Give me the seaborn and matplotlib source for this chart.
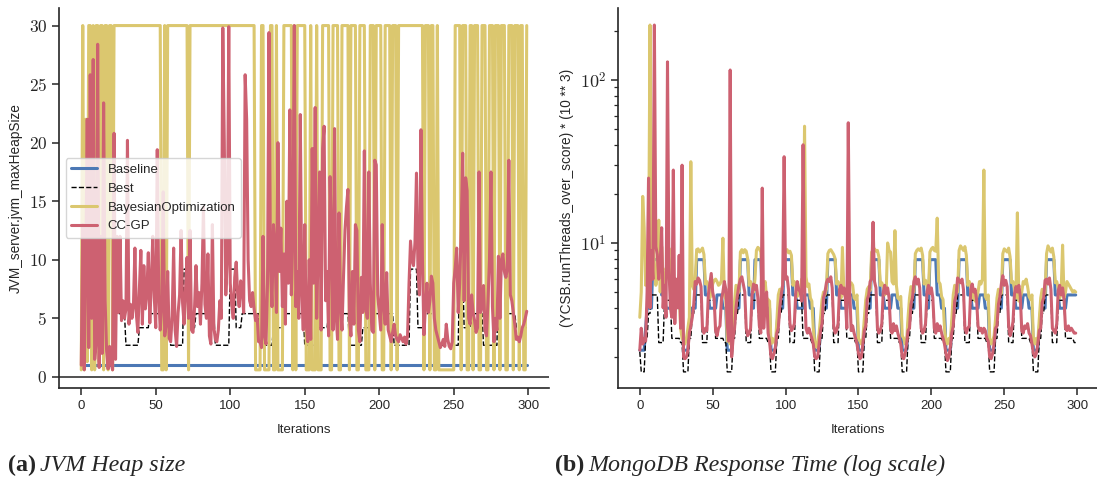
import numpy as np
import pandas as pd
import matplotlib
matplotlib.use("Agg")
import matplotlib.pyplot as plt
import seaborn as sns
from matplotlib.ticker import FuncFormatter, LogLocator, NullFormatter, FixedLocator

# ---------------- data ----------------
iterations = list(range(300))

heap_baseline = [
    1.0, 1.0, 1.0, 1.0, 1.0, 1.0, 1.0, 1.0, 1.0, 1.0, 1.0, 1.0, 1.0, 1.0, 1.0, 1.0, 1.0, 1.0, 1.0, 1.0, 1.0, 1.0, 1.0, 1.0, 1.0, 1.0, 1.0, 1.0, 1.0, 1.0,
    1.0, 1.0, 1.0, 1.0, 1.0, 1.0, 1.0, 1.0, 1.0, 1.0, 1.0, 1.0, 1.0, 1.0, 1.0, 1.0, 1.0, 1.0, 1.0, 1.0, 1.0, 1.0, 1.0, 1.0, 1.0, 1.0, 1.0, 1.0, 1.0, 1.0,
    1.0, 1.0, 1.0, 1.0, 1.0, 1.0, 1.0, 1.0, 1.0, 1.0, 1.0, 1.0, 1.0, 1.0, 1.0, 1.0, 1.0, 1.0, 1.0, 1.0, 1.0, 1.0, 1.0, 1.0, 1.0, 1.0, 1.0, 1.0, 1.0, 1.0,
    1.0, 1.0, 1.0, 1.0, 1.0, 1.0, 1.0, 1.0, 1.0, 1.0, 1.0, 1.0, 1.0, 1.0, 1.0, 1.0, 1.0, 1.0, 1.0, 1.0, 1.0, 1.0, 1.0, 1.0, 1.0, 1.0, 1.0, 1.0, 1.0, 1.0,
    1.0, 1.0, 1.0, 1.0, 1.0, 1.0, 1.0, 1.0, 1.0, 1.0, 1.0, 1.0, 1.0, 1.0, 1.0, 1.0, 1.0, 1.0, 1.0, 1.0, 1.0, 1.0, 1.0, 1.0, 1.0, 1.0, 1.0, 1.0, 1.0, 1.0,
    1.0, 1.0, 1.0, 1.0, 1.0, 1.0, 1.0, 1.0, 1.0, 1.0, 1.0, 1.0, 1.0, 1.0, 1.0, 1.0, 1.0, 1.0, 1.0, 1.0, 1.0, 1.0, 1.0, 1.0, 1.0, 1.0, 1.0, 1.0, 1.0, 1.0,
    1.0, 1.0, 1.0, 1.0, 1.0, 1.0, 1.0, 1.0, 1.0, 1.0, 1.0, 1.0, 1.0, 1.0, 1.0, 1.0, 1.0, 1.0, 1.0, 1.0, 1.0, 1.0, 1.0, 1.0, 1.0, 1.0, 1.0, 1.0, 1.0, 1.0,
    1.0, 1.0, 1.0, 1.0, 1.0, 1.0, 1.0, 1.0, 1.0, 1.0, 1.0, 1.0, 1.0, 1.0, 1.0, 1.0, 1.0, 1.0, 1.0, 1.0, 1.0, 1.0, 1.0, 1.0, 1.0, 1.0, 1.0, 1.0, 1.0, 1.0,
    1.0, 1.0, 1.0, 1.0, 1.0, 1.0, 1.0, 1.0, 1.0, 1.0, 1.0, 1.0, 1.0, 1.0, 1.0, 1.0, 1.0, 1.0, 1.0, 1.0, 1.0, 1.0, 1.0, 1.0, 1.0, 1.0, 1.0, 1.0, 1.0, 1.0,
    1.0, 1.0, 1.0, 1.0, 1.0, 1.0, 1.0, 1.0, 1.0, 1.0, 1.0, 1.0, 1.0, 1.0, 1.0, 1.0, 1.0, 1.0, 1.0, 1.0, 1.0, 1.0, 1.0, 1.0, 1.0, 1.0, 1.0, 1.0, 1.0, 1.0,
]

heap_best = [
    2.7, 2.7, 2.7, 2.7, 2.7, 2.7, 2.7, 2.7, 2.7, 4.2, 4.2, 4.2, 4.2, 4.2, 4.2, 4.2, 5.4, 5.4, 5.4, 5.4, 5.4, 5.4, 5.4, 5.4, 5.4, 5.4, 5.4, 5.4, 5.4, 5.4,
    2.7, 2.7, 2.7, 2.7, 2.7, 2.7, 2.7, 2.7, 2.7, 4.2, 4.2, 4.2, 4.2, 4.2, 4.2, 4.2, 5.4, 5.4, 5.4, 5.4, 5.4, 5.4, 5.4, 5.4, 5.4, 5.4, 5.4, 5.4, 5.4, 5.4,
    2.7, 2.7, 2.7, 2.7, 2.7, 2.7, 2.7, 2.7, 2.7, 9.2, 9.2, 9.2, 4.2, 4.2, 4.2, 4.2, 4.2, 5.4, 5.4, 5.4, 5.4, 5.4, 5.4, 5.4, 5.4, 5.4, 5.4, 5.4, 5.4, 5.4,
    2.7, 2.7, 2.7, 2.7, 2.7, 2.7, 2.7, 2.7, 2.7, 2.7, 9.2, 9.2, 9.2, 9.2, 4.2, 4.2, 4.2, 4.2, 5.4, 5.4, 5.4, 5.4, 5.4, 5.4, 5.4, 5.4, 5.4, 5.4, 5.4, 5.4,
    2.7, 2.7, 2.7, 2.7, 2.7, 2.7, 2.7, 2.7, 2.7, 4.2, 4.2, 4.2, 4.2, 4.2, 4.2, 4.2, 5.4, 5.4, 5.4, 5.4, 5.4, 5.4, 5.4, 5.4, 5.4, 5.4, 5.4, 5.4, 5.4, 5.4,
    2.7, 2.7, 2.7, 2.7, 2.7, 2.7, 2.7, 2.7, 2.7, 4.2, 4.2, 4.2, 4.2, 4.2, 4.2, 4.2, 5.4, 5.4, 5.4, 5.4, 5.4, 5.4, 5.4, 5.4, 5.4, 5.4, 5.4, 5.4, 5.4, 5.4,
    2.7, 2.7, 2.7, 2.7, 2.7, 2.7, 2.7, 2.7, 2.7, 4.2, 4.2, 4.2, 4.2, 4.2, 4.2, 4.2, 5.4, 5.4, 5.4, 5.4, 5.4, 5.4, 5.4, 5.4, 5.4, 5.4, 5.4, 5.4, 5.4, 5.4,
    2.7, 2.7, 2.7, 2.7, 2.7, 2.7, 2.7, 2.7, 2.7, 2.7, 2.7, 9.2, 9.2, 9.2, 9.2, 9.2, 4.2, 4.2, 4.2, 4.2, 5.4, 5.4, 5.4, 5.4, 5.4, 5.4, 5.4, 5.4, 5.4, 5.4,
    2.7, 2.7, 2.7, 2.7, 2.7, 2.7, 2.7, 2.7, 2.7, 2.7, 2.7, 2.7, 2.7, 2.7, 9.2, 9.2, 9.2, 4.2, 4.2, 4.2, 4.2, 4.2, 5.4, 5.4, 5.4, 5.4, 5.4, 5.4, 5.4, 5.4,
    2.7, 2.7, 2.7, 2.7, 2.7, 2.7, 2.7, 2.7, 2.7, 2.7, 9.2, 9.2, 9.2, 9.2, 9.2, 5.4, 5.4, 5.4, 5.4, 5.4, 5.4, 5.4, 4.2, 4.2, 4.2, 4.2, 4.2, 4.2, 4.2, 4.2,
]

heap_bo = [
    0.6, 30, 0.6, 22, 1.3, 30, 30, 0.6, 30, 0.6, 30, 30, 1.3, 30, 30, 0.6, 30, 30, 0.6, 30, 30, 0.6, 30, 30, 30, 30, 30, 30, 30, 30,
    30, 30, 30, 30, 30, 30, 30, 30, 30, 30, 30, 30, 30, 30, 30, 30, 30, 30, 30, 30, 30, 30, 30, 30, 0.6, 0.6, 30, 0.6, 30, 30,
    30, 30, 30, 30, 30, 30, 30, 30, 30, 30, 30, 30, 0.6, 30, 30, 30, 30, 30, 30, 30, 30, 30, 30, 30, 30, 30, 30, 30, 30, 30,
    30, 30, 30, 30, 30, 30, 30, 30, 30, 30, 30, 30, 30, 30, 30, 30, 30, 30, 30, 30, 30, 30, 30, 30, 30, 30, 30, 0.6, 0.6, 0.6,
    0.6, 30, 30, 0.6, 0.6, 0.6, 0.6, 30, 30, 0.6, 0.6, 30, 0.6, 0.6, 0.6, 0.6, 30, 30, 30, 30, 30, 30, 0.6, 30, 0.6, 30, 30, 30, 30, 30,
    30, 0.6, 0.6, 0.6, 30, 0.6, 0.6, 0.6, 30, 0.6, 0.6, 0.6, 30, 30, 30, 30, 30, 0.6, 0.6, 30, 30, 30, 30, 0.6, 0.6, 30, 30, 30, 30, 30,
    0.6, 30, 30, 30, 30, 0.6, 0.6, 30, 30, 30, 30, 0.6, 0.6, 0.6, 30, 30, 30, 0.6, 30, 30, 30, 30, 0.6, 0.6, 30, 30, 30, 30, 0.6, 30,
    30, 30, 0.6, 30, 30, 30, 30, 30, 30, 30, 30, 30, 30, 30, 30, 30, 30, 30, 30, 30, 0.6, 30, 30, 30, 0.6, 30, 30, 0.6, 0.6, 30,
    0.6, 0.6, 0.6, 0.6, 0.6, 0.6, 0.6, 0.6, 0.6, 0.6, 0.6, 30, 30, 30, 30, 0.6, 30, 30, 30, 0.6, 0.6, 30, 30, 0.6, 30, 30, 30, 0.6, 0.6, 30,
    30, 30, 0.6, 0.6, 30, 30, 30, 0.6, 30, 30, 30, 0.6, 30, 30, 30, 0.6, 0.6, 30, 30, 30, 0.6, 30, 30, 30, 0.6, 30, 30, 0.6, 0.6, 30,
]

heap_ccgp = [
    1.0, 13.0, 0.6, 9.3, 22.0, 2.5, 25.8, 5.0, 27.1, 1.5, 3.0, 28.4, 0.8, 12.0, 2.0, 23.4, 6.5, 2.2, 0.7, 2.6, 1.2, 0.6, 20.8, 1.5, 12.0, 5.5, 12.0, 4.8, 6.5, 5.0,
    5.8, 20.2, 4.5, 6.2, 5.0, 6.0, 11.0, 5.3, 3.8, 7.5, 10.8, 4.5, 9.5, 5.8, 7.2, 10.6, 4.6, 8.0, 12.0, 6.8, 4.2, 19.4, 7.0, 4.0, 6.0, 15.8, 3.5, 4.5, 9.0, 3.3,
    3.0, 5.2, 11.0, 4.0, 2.6, 5.5, 7.0, 12.5, 6.3, 4.5, 7.5, 10.2, 5.0, 12.5, 4.0, 3.8, 5.8, 9.5, 6.0, 7.2, 4.5, 8.0, 14.5, 6.2, 5.0, 10.5, 3.5, 2.8, 13.0, 4.2,
    3.2, 3.0, 4.0, 6.5, 5.0, 29.8, 20.0, 7.0, 10.0, 29.9, 8.0, 6.2, 5.0, 8.5, 9.8, 7.0, 6.0, 8.2, 7.5, 5.5, 25.8, 22.0, 10.0, 6.5, 6.0, 7.2, 5.8, 4.8, 5.3, 3.0,
    3.0, 2.5, 12.0, 3.5, 2.8, 8.0, 29.4, 9.5, 6.0, 13.0, 11.0, 5.5, 20.0, 9.0, 12.7, 6.0, 10.5, 4.5, 15.0, 8.0, 22.8, 7.0, 12.0, 30.0, 6.0, 9.0, 5.0, 22.4, 7.5, 4.0,
    13.0, 4.5, 3.0, 10.0, 3.2, 19.5, 8.0, 23.0, 5.0, 11.0, 17.5, 4.0, 19.5, 21.4, 6.5, 9.0, 3.5, 17.1, 11.6, 4.0, 21.2, 5.5, 3.2, 14.0, 6.0, 4.0, 8.5, 12.5, 14.5, 16.0,
    5.0, 3.5, 9.0, 4.5, 13.0, 12.5, 4.0, 3.0, 8.5, 5.5, 19.3, 6.0, 5.0, 17.5, 8.0, 4.0, 3.8, 18.5, 18.1, 7.0, 5.5, 4.0, 13.0, 6.0, 4.5, 8.9, 4.0, 3.5, 3.0, 3.8,
    4.5, 3.5, 3.2, 3.0, 3.6, 3.3, 3.0, 3.4, 2.8, 3.5, 8.0, 11.6, 10.0, 9.5, 11.5, 17.4, 9.0, 7.0, 21.1, 10.0, 3.6, 6.0, 8.0, 5.5, 6.5, 8.6, 8.0, 5.0, 4.0, 3.5,
    3.0, 2.5, 2.8, 3.2, 2.6, 4.5, 3.2, 2.6, 2.4, 3.0, 8.0, 9.3, 11.0, 5.5, 8.0, 12.5, 19.1, 6.5, 17.0, 15.9, 5.0, 4.5, 7.0, 5.5, 4.8, 3.8, 4.2, 17.5, 5.5, 6.0,
    7.8, 4.0, 3.5, 6.5, 10.0, 17.5, 6.0, 3.0, 5.0, 4.0, 10.3, 5.0, 10.0, 10.5, 9.0, 8.5, 9.2, 18.5, 7.0, 6.5, 5.5, 4.5, 3.2, 3.4, 3.0, 3.5, 4.2, 4.5, 5.0, 5.6,
]

mongo_baseline = [
    2.2, 2.2, 2.2, 2.2, 3.0, 3.98, 3.98, 3.98, 3.98, 7.9, 7.9, 7.9, 7.9, 7.9, 7.9, 4.8, 4.8, 4.8, 3.98, 3.98, 3.98, 3.98, 3.98, 4.8, 4.8, 4.8, 4.8, 3.98, 3.98, 3.98,
    2.2, 2.2, 2.2, 2.2, 3.0, 3.98, 3.98, 3.98, 3.98, 7.9, 7.9, 7.9, 7.9, 7.9, 7.9, 4.8, 4.8, 4.8, 3.98, 3.98, 3.98, 3.98, 3.98, 4.8, 4.8, 4.8, 4.8, 3.98, 3.98, 3.98,
    2.2, 2.2, 2.2, 2.2, 3.0, 3.98, 3.98, 3.98, 3.98, 7.9, 7.9, 7.9, 7.9, 7.9, 7.9, 4.8, 4.8, 4.8, 3.98, 7.9, 7.9, 7.9, 7.9, 7.9, 4.8, 4.8, 4.8, 3.98, 3.98, 3.98,
    2.2, 2.2, 2.2, 2.2, 3.0, 3.98, 3.98, 3.98, 3.98, 7.9, 7.9, 7.9, 7.9, 7.9, 7.9, 4.8, 4.8, 4.8, 3.98, 3.98, 3.98, 3.98, 3.98, 4.8, 4.8, 4.8, 4.8, 3.98, 3.98, 3.98,
    2.2, 2.2, 2.2, 2.2, 3.0, 3.98, 3.98, 3.98, 3.98, 7.9, 7.9, 7.9, 7.9, 7.9, 7.9, 4.8, 4.8, 4.8, 3.98, 3.98, 3.98, 3.98, 3.98, 4.8, 4.8, 4.8, 4.8, 3.98, 3.98, 3.98,
    2.2, 2.2, 2.2, 2.2, 3.0, 3.98, 3.98, 3.98, 3.98, 7.9, 7.9, 7.9, 7.9, 7.9, 7.9, 4.8, 4.8, 4.8, 3.98, 3.98, 3.98, 3.98, 3.98, 4.8, 4.8, 4.8, 4.8, 3.98, 3.98, 3.98,
    2.2, 2.2, 2.2, 2.2, 3.0, 3.98, 3.98, 3.98, 3.98, 7.9, 7.9, 7.9, 7.9, 7.9, 7.9, 4.8, 4.8, 4.8, 3.98, 7.9, 7.9, 7.9, 7.9, 7.9, 4.8, 4.8, 4.8, 3.98, 3.98, 3.98,
    2.2, 2.2, 2.2, 2.2, 3.0, 3.98, 3.98, 3.98, 3.98, 7.9, 7.9, 7.9, 7.9, 7.9, 7.9, 4.8, 4.8, 4.8, 3.98, 3.98, 3.98, 3.98, 3.98, 4.8, 4.8, 4.8, 4.8, 3.98, 3.98, 3.98,
    2.2, 2.2, 2.2, 2.2, 3.0, 3.98, 3.98, 3.98, 3.98, 7.9, 7.9, 7.9, 7.9, 7.9, 7.9, 4.8, 4.8, 4.8, 3.98, 3.98, 3.98, 3.98, 3.98, 4.8, 4.8, 4.8, 4.8, 3.98, 3.98, 3.98,
    2.2, 2.2, 2.2, 2.2, 3.0, 3.98, 3.98, 3.98, 3.98, 7.9, 7.9, 7.9, 7.9, 7.9, 7.9, 4.8, 4.8, 4.8, 3.98, 3.98, 3.98, 3.98, 3.98, 4.8, 4.8, 4.8, 4.8, 4.8, 4.8, 4.8,
]

mongo_best = [
    2.15, 1.62, 1.62, 1.62, 2.6, 2.6, 3.7, 3.7, 4.8, 4.8, 4.8, 4.8, 4.8, 2.45, 2.45, 2.45, 2.45, 4.45, 4.45, 4.45, 4.45, 4.45, 2.6, 2.6, 2.6, 2.6, 2.6, 2.6, 2.45, 2.45,
    1.62, 1.62, 1.62, 1.62, 2.6, 2.6, 3.7, 3.7, 4.8, 4.8, 4.8, 4.8, 4.8, 2.45, 2.45, 2.45, 2.45, 4.45, 4.45, 4.45, 4.45, 4.45, 2.6, 2.6, 2.6, 2.6, 2.6, 2.6, 2.45, 2.45,
    1.62, 1.62, 1.62, 1.62, 2.6, 2.6, 3.7, 3.7, 4.8, 4.8, 4.8, 4.8, 4.8, 2.45, 2.45, 2.45, 2.45, 4.45, 4.45, 4.45, 4.45, 4.45, 2.6, 2.6, 2.6, 2.6, 2.6, 2.6, 2.45, 2.45,
    1.62, 1.62, 1.62, 1.62, 2.6, 2.6, 3.7, 3.7, 4.8, 4.8, 4.8, 4.8, 4.8, 2.45, 2.45, 2.45, 2.45, 4.45, 4.45, 4.45, 4.45, 4.45, 2.6, 2.6, 2.6, 2.6, 2.6, 2.6, 2.45, 2.45,
    1.62, 1.62, 1.62, 1.62, 2.6, 2.6, 3.7, 3.7, 4.8, 4.8, 4.8, 4.8, 4.8, 2.45, 2.45, 2.45, 2.45, 4.45, 4.45, 4.45, 4.45, 4.45, 2.6, 2.6, 2.6, 2.6, 2.6, 2.6, 2.45, 2.45,
    1.62, 1.62, 1.62, 1.62, 2.6, 2.6, 3.7, 3.7, 4.8, 4.8, 4.8, 4.8, 4.8, 2.45, 2.45, 2.45, 2.45, 4.45, 4.45, 4.45, 4.45, 4.45, 2.6, 2.6, 2.6, 2.6, 2.6, 2.6, 2.45, 2.45,
    1.62, 1.62, 1.62, 1.62, 2.6, 2.6, 3.7, 3.7, 4.8, 4.8, 4.8, 4.8, 4.8, 2.45, 2.45, 2.45, 2.45, 4.45, 4.45, 4.45, 4.45, 4.45, 2.6, 2.6, 2.6, 2.6, 2.6, 2.6, 2.45, 2.45,
    1.62, 1.62, 1.62, 1.62, 2.6, 2.6, 3.7, 3.7, 4.8, 4.8, 4.8, 4.8, 4.8, 2.45, 2.45, 2.45, 2.45, 4.45, 4.45, 4.45, 4.45, 4.45, 2.6, 2.6, 2.6, 2.6, 2.6, 2.6, 2.45, 2.45,
    1.62, 1.62, 1.62, 1.62, 2.6, 2.6, 3.7, 3.7, 4.8, 4.8, 4.8, 4.8, 4.8, 2.45, 2.45, 2.45, 2.45, 4.45, 4.45, 4.45, 4.45, 4.45, 2.6, 2.6, 2.6, 2.6, 2.6, 2.6, 2.45, 2.45,
    1.62, 1.62, 1.62, 1.62, 2.6, 2.6, 3.7, 3.7, 4.8, 4.8, 4.8, 4.8, 4.8, 2.45, 2.45, 2.45, 2.45, 4.45, 4.45, 4.45, 4.45, 4.45, 2.6, 2.6, 2.6, 2.6, 2.6, 2.6, 2.45, 2.45,
]

mongo_bo = [
    3.5, 5.0, 19.3, 12.4, 5.5, 8.0, 6.5, 217, 9.0, 12.0, 7.5, 5.5, 6.2, 13.8, 5.0, 9.5, 6.0, 4.5, 7.0, 6.5, 9.3, 5.5, 5.8, 6.0, 5.5, 5.8, 4.8, 5.0, 3.0, 2.6,
    2.5, 2.4, 2.6, 3.0, 3.5, 31.5, 5.5, 5.2, 6.0, 9.1, 9.2, 8.8, 9.0, 9.3, 8.5, 5.6, 5.8, 5.5, 4.6, 5.0, 5.6, 5.9, 6.0, 5.8, 5.5, 5.6, 5.9, 10.7, 4.8, 4.5,
    2.5, 2.6, 2.4, 2.7, 3.2, 4.4, 5.5, 5.4, 5.0, 8.8, 9.1, 8.7, 9.1, 8.9, 8.0, 5.5, 5.8, 5.4, 5.0, 6.0, 9.0, 9.4, 9.2, 8.8, 5.6, 5.5, 5.8, 4.6, 4.5, 4.4,
    2.4, 2.6, 2.5, 2.4, 3.3, 4.8, 5.2, 5.0, 5.5, 8.6, 9.0, 9.1, 8.7, 8.9, 8.4, 5.5, 5.8, 5.4, 4.7, 5.2, 5.0, 6.0, 5.5, 52.0, 6.2, 5.4, 5.6, 4.6, 4.4, 3.0,
    2.4, 2.3, 2.5, 2.8, 3.5, 4.5, 5.0, 4.8, 5.2, 8.6, 9.0, 9.1, 8.8, 8.5, 8.0, 5.6, 5.8, 5.5, 4.6, 9.4, 5.0, 4.7, 5.2, 5.8, 5.6, 5.7, 5.5, 4.6, 4.5, 4.8,
    2.6, 2.5, 2.4, 2.6, 3.4, 4.5, 5.2, 5.4, 5.1, 8.8, 9.0, 9.2, 8.9, 9.0, 8.2, 5.5, 5.7, 5.4, 4.8, 5.0, 10.0, 9.0, 8.8, 5.8, 5.6, 11.9, 5.5, 4.6, 4.5, 4.7,
    2.7, 2.6, 2.4, 2.5, 3.5, 4.6, 5.4, 5.2, 5.0, 8.6, 9.0, 9.2, 9.0, 9.3, 8.4, 5.6, 5.9, 5.5, 5.0, 8.8, 9.2, 9.4, 9.0, 8.9, 14.2, 5.8, 5.6, 4.7, 4.5, 3.0,
    2.5, 2.4, 2.6, 2.5, 3.4, 4.8, 5.5, 5.3, 5.0, 9.0, 9.6, 9.3, 9.0, 9.5, 8.4, 5.5, 5.8, 5.4, 4.6, 4.9, 4.4, 4.6, 5.0, 5.8, 5.6, 6.0, 28.0, 4.7, 4.5, 4.8,
    2.6, 2.4, 2.5, 2.7, 3.4, 4.6, 5.2, 5.0, 4.9, 8.6, 9.2, 9.0, 8.8, 9.3, 8.2, 5.7, 5.8, 5.3, 4.6, 15.3, 4.4, 4.6, 5.0, 5.8, 5.6, 6.0, 5.4, 4.7, 4.5, 4.8,
    2.5, 2.4, 2.6, 2.5, 3.4, 4.6, 5.2, 5.0, 4.9, 8.6, 9.6, 9.2, 8.8, 9.3, 8.2, 5.7, 5.8, 5.3, 4.6, 5.0, 9.7, 4.6, 5.0, 5.8, 5.6, 5.4, 5.2, 5.0, 5.1, 5.0,
]

mongo_ccgp = [
    2.2, 3.0, 2.4, 2.6, 2.5, 5.0, 25.0, 4.0, 9.0, 6.0, 217, 9.5, 8.5, 6.0, 7.5, 12.4, 4.0, 5.5, 3.5, 129, 7.0, 4.0, 3.5, 28.0, 3.2, 6.0, 4.0, 8.4, 3.0, 30.0,
    2.0, 1.95, 2.0, 2.2, 2.8, 3.1, 3.5, 4.2, 5.8, 5.6, 6.1, 5.9, 5.4, 3.0, 2.8, 3.0, 2.9, 4.8, 5.6, 6.5, 5.0, 4.5, 2.9, 2.7, 3.0, 3.1, 4.5, 5.0, 5.8, 5.2,
    3.2, 2.5, 115, 2.0, 2.6, 3.0, 4.0, 4.8, 5.5, 6.0, 6.2, 5.6, 5.0, 3.0, 2.7, 2.8, 3.0, 4.8, 5.6, 5.2, 5.5, 4.6, 3.1, 2.8, 21.7, 3.0, 4.5, 5.0, 2.8, 2.5,
    2.0, 1.95, 2.1, 2.3, 2.8, 3.0, 4.0, 4.8, 5.5, 33.8, 6.0, 6.2, 5.2, 3.2, 2.9, 3.0, 3.2, 5.0, 5.8, 5.2, 5.0, 4.4, 40.0, 5.5, 3.0, 2.8, 3.0, 2.8, 2.6, 2.4,
    2.0, 1.95, 2.0, 2.4, 2.9, 3.2, 4.6, 5.0, 5.7, 6.0, 5.8, 6.2, 5.3, 3.1, 2.8, 2.9, 3.2, 5.2, 5.5, 4.9, 5.3, 4.6, 3.0, 54.6, 5.0, 2.9, 3.1, 2.8, 2.6, 2.4,
    2.1, 1.95, 2.0, 2.4, 2.9, 3.1, 4.5, 4.8, 5.8, 6.0, 13.4, 5.8, 5.3, 3.0, 2.8, 2.9, 3.2, 5.0, 5.5, 4.9, 5.3, 4.6, 3.0, 2.8, 3.2, 2.9, 3.1, 2.8, 2.6, 2.4,
    2.0, 1.95, 2.1, 2.4, 2.9, 3.0, 4.2, 4.6, 5.8, 6.2, 5.6, 6.0, 5.3, 3.0, 2.8, 2.9, 3.2, 5.0, 5.5, 4.9, 5.3, 4.6, 3.0, 2.8, 3.2, 2.9, 3.1, 2.8, 2.6, 2.4,
    2.1, 1.9, 2.0, 2.3, 2.8, 3.1, 4.4, 4.8, 6.1, 5.9, 5.7, 6.0, 5.2, 3.0, 2.8, 3.0, 3.1, 5.2, 5.6, 5.0, 5.2, 4.5, 3.1, 2.9, 3.0, 2.8, 3.0, 2.9, 2.6, 2.5,
    2.0, 1.95, 2.1, 2.4, 3.0, 3.1, 4.2, 4.7, 5.6, 6.3, 5.5, 5.9, 5.4, 3.1, 2.7, 2.9, 3.3, 4.9, 5.4, 5.0, 5.5, 4.7, 2.9, 2.8, 3.1, 3.0, 3.2, 2.8, 2.7, 2.4,
    2.1, 2.0, 2.1, 2.4, 2.9, 3.0, 4.3, 4.6, 5.9, 6.0, 5.6, 6.1, 5.2, 3.0, 2.9, 2.8, 3.2, 5.1, 5.5, 4.8, 5.3, 4.5, 3.0, 2.9, 3.1, 2.9, 3.0, 2.9, 2.8, 2.8,
]

methods = ["Baseline", "Best", "BayesianOptimization", "CC-GP"]
colors = {"Baseline": "#4c78b5", "Best": "black",
          "BayesianOptimization": "#dbc76f", "CC-GP": "#cd6171"}

# ---------------- style ----------------
sns.set_theme(style="ticks")
plt.rcParams["font.family"] = ["Liberation Sans", "DejaVu Sans"]
plt.rcParams["mathtext.fontset"] = "cm"
plt.rcParams["axes.linewidth"] = 1.2
plt.rcParams["xtick.major.width"] = 1.1
plt.rcParams["ytick.major.width"] = 1.1
plt.rcParams["xtick.major.size"] = 5
plt.rcParams["ytick.major.size"] = 5

fig = plt.figure(figsize=(10.97, 4.8), dpi=100)
W, H = 1097.0, 480.0
ax1 = fig.add_axes([59 / W, 92 / H, (549 - 59) / W, 380 / H])
ax2 = fig.add_axes([618 / W, 92 / H, (1097.5 - 618) / W, 380 / H])


def draw(ax, series):
    for name, vals in zip(methods, series):
        df = pd.DataFrame({"Iterations": iterations, "value": vals})
        if name == "Best":
            sns.lineplot(data=df, x="Iterations", y="value", ax=ax, color="black",
                         lw=1.0, linestyle="--", label=name)
        else:
            sns.lineplot(data=df, x="Iterations", y="value", ax=ax, color=colors[name],
                         lw=2.2, label=name)


draw(ax1, [heap_baseline, heap_best, heap_bo, heap_ccgp])
draw(ax2, [mongo_baseline, mongo_best, mongo_bo, mongo_ccgp])

for ax in (ax1, ax2):
    sns.despine(ax=ax)
    ax.set_xlim(-14.95, 313.95)
    ax.set_xticks([0, 50, 100, 150, 200, 250, 300])
    ax.set_xlabel("Iterations", fontsize=9.5, labelpad=9)
    ax.tick_params(axis="x", labelsize=9.5)

# panel a
ax1.axhline(0, color="#333333", lw=1.2, zorder=1)
ax1.set_ylim(-0.95, 31.5)
ax1.set_yticks([0, 5, 10, 15, 20, 25, 30])
ax1.yaxis.set_major_formatter(FuncFormatter(lambda v, p: rf"${v:.0f}$"))
ax1.tick_params(axis="y", labelsize=12.5)
ax1.set_ylabel("JVM_server.jvm_maxHeapSize", fontsize=9.8)
leg = ax1.legend(loc="center left", fontsize=9.5, frameon=True, framealpha=0.8,
                 edgecolor="#cccccc", fancybox=True)

# panel b
ax2.set_yscale("log")
ax2.set_ylim(1.29, 276)
ax2.yaxis.set_major_locator(FixedLocator([10, 100]))
ax2.yaxis.set_major_formatter(FuncFormatter(lambda v, p: rf"$10^{{{int(round(np.log10(v)))}}}$"))
ax2.yaxis.set_minor_locator(LogLocator(base=10, subs=np.arange(2, 10)))
ax2.yaxis.set_minor_formatter(NullFormatter())
ax2.tick_params(axis="y", which="major", labelsize=13)
ax2.tick_params(axis="y", which="minor", length=3, width=0.9)
ax2.set_ylabel("(YCSB.runThreads_over_score) * (10 ** 3)", fontsize=9.8)
if ax2.get_legend() is not None:
    ax2.get_legend().remove()

# captions
cap_kw = dict(fontsize=17.3, family=["Liberation Serif", "DejaVu Serif"])
fig.canvas.draw()
ta = fig.text(8 / W, 1 - 471 / H, "(a)", fontweight="bold", **cap_kw)
tb = fig.text(555 / W, 1 - 471 / H, "(b)", fontweight="bold", **cap_kw)
r = fig.canvas.get_renderer()
ea = ta.get_window_extent(r)
eb = tb.get_window_extent(r)
fig.text((ea.x1 + 4) / W, 1 - 471 / H, "JVM Heap size", style="italic", **cap_kw)
fig.text((eb.x1 + 4) / W, 1 - 471 / H, "MongoDB Response Time (log scale)", style="italic", **cap_kw)

fig.savefig("out.png", dpi=100)
